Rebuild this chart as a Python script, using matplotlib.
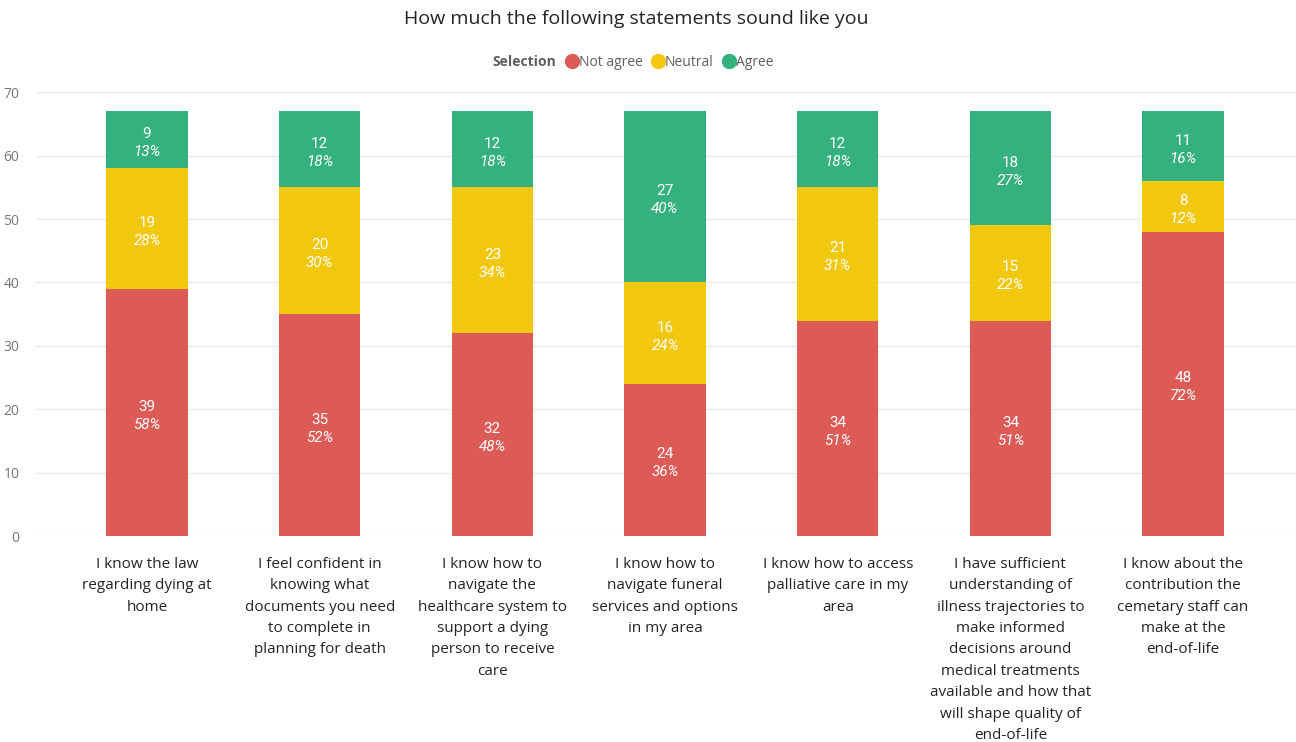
import matplotlib.pyplot as plt
from matplotlib.lines import Line2D
import numpy as np

# Survey answers per statement
statements = [
    "I know the law\nregarding dying at\nhome",
    "I feel confident in\nknowing what\ndocuments you need\nto complete in\nplanning for death",
    "I know how to\nnavigate the\nhealthcare system to\nsupport a dying\nperson to receive\ncare",
    "I know how to\nnavigate funeral\nservices and options\nin my area",
    "I know how to access\npalliative care in my\narea",
    "I have sufficient\nunderstanding of\nillness trajectories to\nmake informed\ndecisions around\nmedical treatments\navailable and how that\nwill shape quality of\nend-of-life",
    "I know about the\ncontribution the\ncemetary staff can\nmake at the\nend-of-life",
]
not_agree = [39, 35, 32, 24, 34, 34, 48]
neutral = [19, 20, 23, 16, 21, 15, 8]
agree = [9, 12, 12, 27, 12, 18, 11]

series = ["Not agree", "Neutral", "Agree"]
colors = ["#DD5B57", "#F2C80F", "#35B07F"]

plt.rcParams['font.family'] = ['Open Sans', 'DejaVu Sans']

fig = plt.figure(figsize=(12.96, 7.42), dpi=100)
ax = fig.add_axes([0.0278, 0.2776, 0.9722, 0.598])

x = np.arange(len(statements))
totals = np.array(not_agree) + np.array(neutral) + np.array(agree)
bottom = np.zeros(len(statements))
for name, vals, col in zip(series, [not_agree, neutral, agree], colors):
    vals = np.array(vals)
    ax.bar(x, vals, bottom=bottom, width=0.47, color=col, zorder=2)
    for xi, v, b, t in zip(x, vals, bottom, totals):
        yc = b + v / 2
        ax.annotate(f"{v}", (xi, yc), xytext=(0, 4), textcoords="offset points",
                    ha="center", va="center", color="white", fontsize=11,
                    family="Roboto")
        ax.annotate(f"{round(v / t * 100)}%", (xi, yc), xytext=(0, -9),
                    textcoords="offset points", ha="center", va="center",
                    color="white", fontsize=11, style="italic", family="Roboto")
    bottom += vals

ax.set_ylim(0, 70)
ax.set_xlim(-0.643, 6.654)
ax.set_yticks(range(0, 71, 10))
ax.yaxis.grid(True, color="#E9E9E9", linewidth=1, zorder=0)
ax.set_xticks(x)
ax.set_xticklabels(statements, fontsize=11, color="#252423", linespacing=1.58,
                   va="top")
ax.tick_params(axis="x", length=0, pad=15)
ax.tick_params(axis="y", length=0, pad=12, labelsize=10, labelcolor="#777777")
for s in ax.spines.values():
    s.set_visible(False)

fig.text(0.491, 0.975, "How much the following statements sound like you",
         ha="center", va="center", fontsize=14, color="#252423")

handles = [Line2D([], [], linestyle="none")]
handles += [Line2D([], [], marker="o", linestyle="none", markersize=10,
                   markerfacecolor=c, markeredgecolor=c) for c in colors]
leg = fig.legend(handles, ["Selection"] + series, loc="center",
                 bbox_to_anchor=(0.483, 0.916), ncol=4, frameon=False,
                 fontsize=10, handletextpad=0.0, columnspacing=0.6,
                 handlelength=1.0, labelcolor="#605E5C")
leg.get_texts()[0].set_weight("bold")

fig.savefig("out.png", dpi=100)
